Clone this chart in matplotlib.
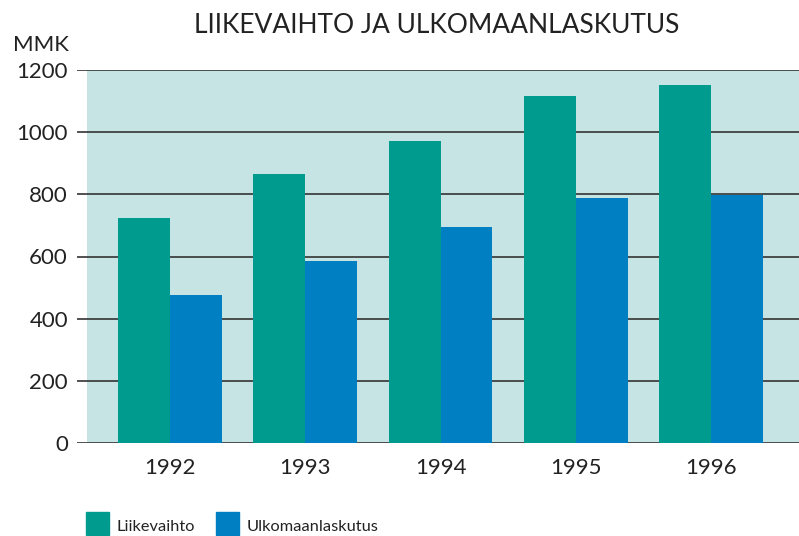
import numpy as np
from matplotlib import pyplot as plt
from matplotlib.patches import Rectangle

years = ['1992', '1993', '1994', '1995', '1996']
liikevaihto = [725, 867, 973, 1115, 1153]
ulkomaan = [477, 586, 696, 789, 798]
series_names = ['Liikevaihto', 'Ulkomaanlaskutus']

TEAL = '#009B8F'
BLUE = '#0080C3'
BG = '#C6E4E4'
LINE = '#333333'
TEXT = '#222222'
FONT = 'Lato'

W, H = 799, 536
fig = plt.figure(figsize=(W / 100, H / 100), dpi=100)
ax = fig.add_axes([77 / W, 93 / H, 722 / W, 373 / H])

x = np.arange(len(years))
width = 52 / 135.25

ax.set_xlim(-0.688, 4.651)
ax.set_ylim(0, 1200)
ax.axvspan(-0.614, 4.651, color=BG, zorder=0, lw=0)
for v in range(0, 1201, 200):
    ax.axhline(v, color=LINE, lw=1.2, zorder=1)

ax.bar(x - width / 2, liikevaihto, width, color=TEAL, zorder=2, lw=0)
ax.bar(x + width / 2, ulkomaan, width, color=BLUE, zorder=2, lw=0)

for s in ax.spines.values():
    s.set_visible(False)
ax.set_yticks(range(0, 1201, 200))
ax.set_xticks(x)
ax.set_xticklabels(years)
ax.tick_params(axis='y', length=0, pad=6.5, labelsize=16, labelcolor=TEXT)
ax.tick_params(axis='x', length=0, pad=11, labelsize=16, labelcolor=TEXT)
for lab in ax.get_xticklabels() + ax.get_yticklabels():
    lab.set_family(FONT)

fig.text(437 / W, 1 - 33 / H, 'LIIKEVAIHTO JA ULKOMAANLASKUTUS',
         ha='center', va='baseline', fontsize=19, family=FONT,
         weight='normal', color=TEXT)
fig.text(13 / W, 1 - 51 / H, 'MMK', ha='left', va='baseline',
         fontsize=16, family=FONT, color=TEXT)

# legend
for i, (name, col) in enumerate(zip(series_names, [TEAL, BLUE])):
    x0 = [86, 216][i]
    fig.patches.append(Rectangle((x0 / W, 1 - 535 / H), 23 / W, 23 / H,
                                 transform=fig.transFigure, color=col))
    fig.text((x0 + 31) / W, 1 - 531 / H, name, ha='left', va='baseline',
             fontsize=11.8, family=FONT, color=TEXT)

fig.savefig('out.png', dpi=100)
